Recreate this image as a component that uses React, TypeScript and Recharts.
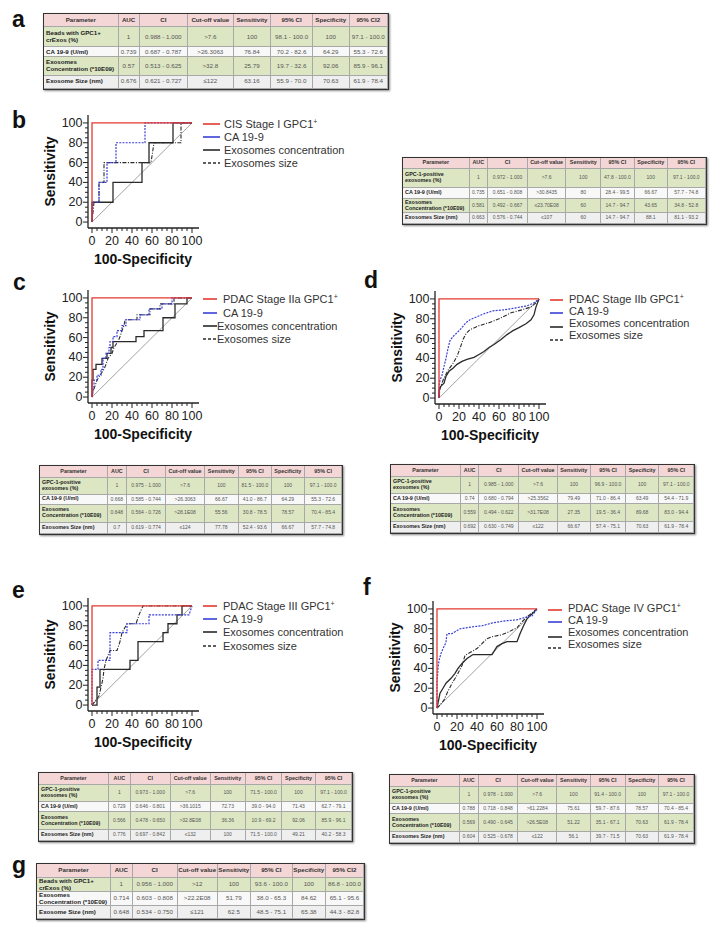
import React from 'react';
import { LineChart, Line, XAxis, YAxis, Legend } from 'recharts';

const FONT = '"Liberation Sans", Arial, Helvetica, sans-serif';
const AXIS_TICKS = [0, 5, 10, 15, 20, 25, 30, 35, 40, 45, 50, 55, 60, 65, 70, 75, 80, 85, 90, 95, 100];
const DIAG = [{ x: 0, y: 0 }, { x: 100, y: 100 }];
const GPC1_PERFECT = [{ x: 0, y: 0 }, { x: 0, y: 100 }, { x: 100, y: 100 }];

// ---- panel b (CIS Stage I)
const bCa199 = [{ x: 0, y: 0 }, { x: 1, y: 20 }, { x: 7, y: 20 }, { x: 7, y: 40 }, { x: 15, y: 40 }, { x: 15, y: 60 }, { x: 24, y: 60 }, { x: 24, y: 80 }, { x: 53, y: 80 }, { x: 53, y: 100 }, { x: 100, y: 100 }];
const bConc = [{ x: 0, y: 0 }, { x: 0, y: 20 }, { x: 21, y: 20 }, { x: 21, y: 40 }, { x: 50, y: 40 }, { x: 50, y: 60 }, { x: 57, y: 60 }, { x: 57, y: 80 }, { x: 81, y: 80 }, { x: 81, y: 100 }, { x: 100, y: 100 }];
const bSize = [{ x: 0, y: 0 }, { x: 2, y: 20 }, { x: 7, y: 20 }, { x: 7, y: 40 }, { x: 12, y: 40 }, { x: 12, y: 60 }, { x: 59, y: 60 }, { x: 62, y: 80 }, { x: 89, y: 80 }, { x: 89, y: 100 }, { x: 100, y: 100 }];

// ---- panel c (PDAC Stage IIa)
const cCa199 = [{ x: 0, y: 0 }, { x: 2, y: 11 }, { x: 2, y: 17 }, { x: 5, y: 17 }, { x: 5, y: 22 }, { x: 9, y: 22 }, { x: 9, y: 28 }, { x: 11, y: 28 }, { x: 11, y: 39 }, { x: 14, y: 39 }, { x: 14, y: 44 }, { x: 17, y: 44 }, { x: 17, y: 50 }, { x: 18, y: 50 }, { x: 18, y: 56 }, { x: 21, y: 56 }, { x: 21, y: 61 }, { x: 25, y: 61 }, { x: 25, y: 67 }, { x: 30, y: 67 }, { x: 30, y: 72 }, { x: 34, y: 72 }, { x: 34, y: 78 }, { x: 48, y: 78 }, { x: 48, y: 83 }, { x: 57, y: 83 }, { x: 57, y: 89 }, { x: 70, y: 89 }, { x: 70, y: 94 }, { x: 80, y: 94 }, { x: 80, y: 100 }, { x: 100, y: 100 }];
const cConc = [{ x: 0, y: 0 }, { x: 0, y: 17 }, { x: 1, y: 17 }, { x: 1, y: 28 }, { x: 4, y: 28 }, { x: 4, y: 33 }, { x: 10, y: 33 }, { x: 10, y: 39 }, { x: 15, y: 39 }, { x: 15, y: 44 }, { x: 19, y: 44 }, { x: 19, y: 50 }, { x: 21, y: 50 }, { x: 21, y: 56 }, { x: 44, y: 56 }, { x: 44, y: 61 }, { x: 52, y: 61 }, { x: 52, y: 67 }, { x: 71, y: 67 }, { x: 71, y: 80 }, { x: 83, y: 80 }, { x: 83, y: 94 }, { x: 95, y: 94 }, { x: 95, y: 100 }, { x: 100, y: 100 }];
const cSize = [{ x: 0, y: 0 }, { x: 1, y: 6 }, { x: 3, y: 11 }, { x: 5, y: 17 }, { x: 8, y: 22 }, { x: 12, y: 28 }, { x: 14, y: 33 }, { x: 16, y: 39 }, { x: 20, y: 44 }, { x: 22, y: 50 }, { x: 26, y: 56 }, { x: 28, y: 61 }, { x: 30, y: 67 }, { x: 32, y: 72 }, { x: 33, y: 78 }, { x: 45, y: 78 }, { x: 45, y: 83 }, { x: 58, y: 83 }, { x: 58, y: 89 }, { x: 68, y: 89 }, { x: 68, y: 94 }, { x: 82, y: 94 }, { x: 82, y: 100 }, { x: 100, y: 100 }];

// ---- panel d (PDAC Stage IIb)
const dCa199 = [{ x: 0, y: 0 }, { x: 0, y: 12 }, { x: 1, y: 18 }, { x: 3, y: 23 }, { x: 5, y: 32 }, { x: 7, y: 40 }, { x: 9, y: 50 }, { x: 11, y: 58 }, { x: 14, y: 62 }, { x: 18, y: 66 }, { x: 22, y: 70 }, { x: 27, y: 76 }, { x: 31, y: 79 }, { x: 38, y: 82 }, { x: 45, y: 85 }, { x: 54, y: 88 }, { x: 65, y: 89 }, { x: 77, y: 91 }, { x: 88, y: 93 }, { x: 95, y: 96 }, { x: 100, y: 100 }];
const dConc = [{ x: 0, y: 0 }, { x: 0, y: 8 }, { x: 2, y: 12 }, { x: 5, y: 15 }, { x: 7, y: 22 }, { x: 10, y: 27 }, { x: 14, y: 30 }, { x: 18, y: 34 }, { x: 23, y: 37 }, { x: 28, y: 39 }, { x: 35, y: 41 }, { x: 40, y: 44 }, { x: 45, y: 47 }, { x: 50, y: 51 }, { x: 55, y: 54 }, { x: 62, y: 59 }, { x: 68, y: 64 }, { x: 74, y: 68 }, { x: 80, y: 71 }, { x: 87, y: 75 }, { x: 92, y: 79 }, { x: 95, y: 84 }, { x: 97, y: 92 }, { x: 100, y: 100 }];
const dSize = [{ x: 0, y: 0 }, { x: 1, y: 10 }, { x: 4, y: 18 }, { x: 9, y: 28 }, { x: 14, y: 35 }, { x: 18, y: 42 }, { x: 21, y: 50 }, { x: 24, y: 59 }, { x: 27, y: 65 }, { x: 31, y: 69 }, { x: 40, y: 73 }, { x: 50, y: 76 }, { x: 60, y: 80 }, { x: 72, y: 86 }, { x: 83, y: 89 }, { x: 92, y: 92 }, { x: 97, y: 96 }, { x: 100, y: 100 }];

// ---- panel e (PDAC Stage III)
const eCa199 = [{ x: 0, y: 0 }, { x: 0, y: 36 }, { x: 6, y: 36 }, { x: 6, y: 45 }, { x: 18, y: 45 }, { x: 18, y: 73 }, { x: 35, y: 73 }, { x: 35, y: 82 }, { x: 57, y: 82 }, { x: 57, y: 91 }, { x: 97, y: 91 }, { x: 100, y: 100 }];
const eConc = [{ x: 0, y: 0 }, { x: 5, y: 0 }, { x: 5, y: 18 }, { x: 8, y: 18 }, { x: 8, y: 36 }, { x: 38, y: 36 }, { x: 38, y: 45 }, { x: 46, y: 45 }, { x: 46, y: 64 }, { x: 71, y: 64 }, { x: 71, y: 73 }, { x: 76, y: 73 }, { x: 76, y: 82 }, { x: 85, y: 82 }, { x: 85, y: 91 }, { x: 90, y: 91 }, { x: 90, y: 100 }, { x: 100, y: 100 }];
const eSize = [{ x: 0, y: 0 }, { x: 7, y: 9 }, { x: 9, y: 18 }, { x: 11, y: 27 }, { x: 12, y: 36 }, { x: 14, y: 45 }, { x: 18, y: 55 }, { x: 25, y: 55 }, { x: 28, y: 64 }, { x: 30, y: 73 }, { x: 35, y: 82 }, { x: 44, y: 82 }, { x: 47, y: 91 }, { x: 51, y: 100 }, { x: 100, y: 100 }];

// ---- panel f (PDAC Stage IV)
const fCa199 = [{ x: 0, y: 0 }, { x: 0, y: 25 }, { x: 1, y: 40 }, { x: 2, y: 48 }, { x: 4, y: 55 }, { x: 6, y: 60 }, { x: 8, y: 64 }, { x: 9, y: 67 }, { x: 10, y: 75 }, { x: 15, y: 75 }, { x: 18, y: 77 }, { x: 23, y: 80 }, { x: 36, y: 82 }, { x: 45, y: 83 }, { x: 56, y: 86 }, { x: 68, y: 88 }, { x: 80, y: 89 }, { x: 90, y: 92 }, { x: 95, y: 93 }, { x: 100, y: 100 }];
const fConc = [{ x: 0, y: 0 }, { x: 1, y: 5 }, { x: 3, y: 15 }, { x: 6, y: 20 }, { x: 9, y: 25 }, { x: 14, y: 30 }, { x: 18, y: 35 }, { x: 21, y: 40 }, { x: 25, y: 45 }, { x: 30, y: 50 }, { x: 36, y: 54 }, { x: 55, y: 54 }, { x: 60, y: 62 }, { x: 65, y: 65 }, { x: 70, y: 67 }, { x: 80, y: 67 }, { x: 83, y: 75 }, { x: 87, y: 84 }, { x: 90, y: 90 }, { x: 95, y: 95 }, { x: 100, y: 100 }];
const fSize = [{ x: 0, y: 0 }, { x: 3, y: 3 }, { x: 7, y: 8 }, { x: 10, y: 15 }, { x: 15, y: 25 }, { x: 20, y: 33 }, { x: 25, y: 43 }, { x: 28, y: 53 }, { x: 33, y: 56 }, { x: 40, y: 60 }, { x: 45, y: 65 }, { x: 50, y: 70 }, { x: 55, y: 72 }, { x: 65, y: 74 }, { x: 72, y: 77 }, { x: 80, y: 81 }, { x: 85, y: 87 }, { x: 90, y: 92 }, { x: 95, y: 96 }, { x: 100, y: 100 }];

// ---- tables
const HEADER_A = ['Parameter', 'AUC', 'CI', 'Cut-off value', 'Sensitivity', '95% CI', 'Specificity', '95% CI2'];
const HEADER_B = ['Parameter', 'AUC', 'CI', 'Cut-off value', 'Sensitivity', '95% CI', 'Specificity', '95% CI'];

const tableARows = [
  ['Beads with GPC1+\ncrExos (%)', '1', '0.988 - 1.000', '>7.6', '100', '98.1 - 100.0', '100', '97.1 - 100.0'],
  ['CA 19-9 (U/ml)', '0.739', '0.687 - 0.787', '>26.3063', '76.84', '70.2 - 82.6', '64.29', '55.3 - 72.6'],
  ['Exosomes\nConcentration (*10E09)', '0.57', '0.513 - 0.625', '>32.8', '25.79', '19.7 - 32.6', '92.06', '85.9 - 96.1'],
  ['Exosome Size (nm)', '0.676', '0.621 - 0.727', '≤122', '63.16', '55.9 - 70.0', '70.63', '61.9 - 78.4'],
];
const tableBRows = [
  ['GPC-1-positive\nexosomes (%)', '1', '0.972 - 1.000', '>7.6', '100', '47.8 - 100.0', '100', '97.1 - 100.0'],
  ['CA 19-9 (U/ml)', '0.735', '0.651 - 0.808', '>30.8435', '80', '28.4 - 99.5', '66.67', '57.7 - 74.8'],
  ['Exosomes\nConcentration (*10E09)', '0.581', '0.492 - 0.667', '≤23.70E08', '60', '14.7 - 94.7', '43.65', '34.8 - 52.8'],
  ['Exosomes Size (nm)', '0.663', '0.576 - 0.744', '≤107', '60', '14.7 - 94.7', '88.1', '81.1 - 93.2'],
];
const tableCRows = [
  ['GPC-1-positive\nexosomes (%)', '1', '0.975 - 1.000', '>7.6', '100', '81.5 - 100.0', '100', '97.1 - 100.0'],
  ['CA 19-9 (U/ml)', '0.668', '0.585 - 0.744', '>26.3063', '66.67', '41.0 - 86.7', '64.29', '55.3 - 72.6'],
  ['Exosomes\nConcentration (*10E09)', '0.648', '0.564 - 0.726', '>28.1E08', '55.56', '30.8 - 78.5', '78.57', '70.4 - 85.4'],
  ['Exosomes Size (nm)', '0.7', '0.619 - 0.774', '≤124', '77.78', '52.4 - 93.6', '66.67', '57.7 - 74.8'],
];
const tableDRows = [
  ['GPC-1-positive\nexosomes (%)', '1', '0.985 - 1.000', '>7.6', '100', '96.9 - 100.0', '100', '97.1 - 100.0'],
  ['CA 19-9 (U/ml)', '0.74', '0.680 - 0.794', '>25.3562', '79.49', '71.0 - 86.4', '63.49', '54.4 - 71.9'],
  ['Exosomes\nConcentration (*10E09)', '0.559', '0.494 - 0.622', '>31.7E08', '27.35', '19.5 - 36.4', '89.68', '83.0 - 94.4'],
  ['Exosomes Size (nm)', '0.692', '0.630 - 0.749', '≤122', '66.67', '57.4 - 75.1', '70.63', '61.9 - 78.4'],
];
const tableERows = [
  ['GPC-1-positive\nexosomes (%)', '1', '0.973 - 1.000', '>7.6', '100', '71.5 - 100.0', '100', '97.1 - 100.0'],
  ['CA 19-9 (U/ml)', '0.729', '0.646 - 0.801', '>36.1015', '72.73', '39.0 - 94.0', '71.43', '62.7 - 79.1'],
  ['Exosomes\nConcentration (*10E09)', '0.566', '0.478 - 0.650', '>32.8E08', '36.36', '10.9 - 69.2', '92.06', '85.9 - 96.1'],
  ['Exosomes Size (nm)', '0.776', '0.697 - 0.842', '≤132', '100', '71.5 - 100.0', '49.21', '40.2 - 58.3'],
];
const tableFRows = [
  ['GPC-1-positive\nexosomes (%)', '1', '0.978 - 1.000', '>7.6', '100', '91.4 - 100.0', '100', '97.1 - 100.0'],
  ['CA 19-9 (U/ml)', '0.788', '0.718 - 0.848', '>61.2284', '75.61', '59.7 - 87.6', '78.57', '70.4 - 85.4'],
  ['Exosomes\nConcentration (*10E09)', '0.569', '0.490 - 0.645', '>26.5E08', '51.22', '35.1 - 67.1', '70.63', '61.9 - 78.4'],
  ['Exosomes Size (nm)', '0.604', '0.525 - 0.678', '≤122', '56.1', '39.7 - 71.5', '70.63', '61.9 - 78.4'],
];
const tableGRows = [
  ['Beads with GPC1+\ncrExos (%)', '1', '0.956 - 1.000', '>12', '100', '93.6 - 100.0', '100', '86.8 - 100.0'],
  ['Exosomes\nConcentration (*10E09)', '0.714', '0.603 - 0.808', '>22.2E08', '51.79', '38.0 - 65.3', '84.62', '65.1 - 95.6'],
  ['Exosome Size (nm)', '0.648', '0.534 - 0.750', '≤121', '62.5', '48.5 - 75.1', '65.38', '44.3 - 82.8'],
];

const PINK = '#f3d6d5';
const GREEN = '#dde6c3';
const GRAY = '#efefef';
const WHITE = '#f8f8f8';

const RED = '#e4392f';
const BLUE = '#3a3fd6';
const BLACK = '#2a2a2a';

// chart geometry
const YW = 62;
const MT = 10;
const PW = 111;
const PH = 113;
const XH = 45;
const LW = 200;

const XTick = (props: any) => {
  const { x, y, payload } = props;
  const v = payload.value;
  const major = v % 20 === 0;
  return (
    <g>
      <line x1={x} x2={x} y1={y} y2={y + (major ? 5 : 3)} stroke="#222" strokeWidth={1} />
      {major && (
        <text x={x} y={y + 12.5} textAnchor="middle" dominantBaseline="central" fontSize={12.5} fill="#222" fontFamily={FONT}>
          {v}
        </text>
      )}
    </g>
  );
};

const YTick = (props: any) => {
  const { x, y, payload } = props;
  const v = payload.value;
  const major = v % 20 === 0;
  return (
    <g>
      <line x1={x} x2={x - (major ? 5 : 3)} y1={y} y2={y} stroke="#222" strokeWidth={1} />
      {major && (
        <text x={x - 5.5} y={y} textAnchor="end" dominantBaseline="central" fontSize={12.5} fill="#222" fontFamily={FONT}>
          {v}
        </text>
      )}
    </g>
  );
};

const XTitle = (props: any) => {
  const vb = props.viewBox || {};
  return (
    <text x={vb.x + vb.width / 2 - 0.5} y={vb.y + 31} textAnchor="middle" dominantBaseline="central" fontSize={14} fontWeight="bold" fill="#111" fontFamily={FONT}>
      100-Specificity
    </text>
  );
};

const YTitle = (props: any) => {
  const vb = props.viewBox || {};
  const cx = vb.x + vb.width - 38;
  const cy = vb.y + vb.height / 2;
  return (
    <text x={cx} y={cy} transform={`rotate(-90 ${cx} ${cy})`} textAnchor="middle" dominantBaseline="central" fontSize={14} fontWeight="bold" fill="#111" fontFamily={FONT}>
      Sensitivity
    </text>
  );
};

type LegendCfg = {
  title: string;
  lineX1: number;
  lineX2: number;
  textX: number[];
  lineY: number[];
  textY: number[];
};

const LegendBox = ({ cfg, ox, oy }: { cfg: LegendCfg; ox: number; oy: number }) => {
  const labels = [cfg.title, 'CA 19-9', 'Exosomes concentration', 'Exosomes size'];
  const colors = [RED, BLUE, BLACK, BLACK];
  const dashes = [undefined, undefined, undefined, '3 2'];
  return (
    <div style={{ position: 'relative', width: '100%', height: '100%', fontFamily: FONT }}>
      {labels.map((lab, i) => (
        <React.Fragment key={i}>
          <svg style={{ position: 'absolute', left: cfg.lineX1 - ox, top: cfg.lineY[i] - oy - 2, overflow: 'visible' }} width={cfg.lineX2 - cfg.lineX1} height={4}>
            <line x1={0} x2={cfg.lineX2 - cfg.lineX1} y1={2} y2={2} stroke={colors[i]} strokeWidth={1.6} strokeDasharray={dashes[i]} />
          </svg>
          <span style={{ position: 'absolute', left: cfg.textX[i] - ox, top: cfg.textY[i] - oy - 7, fontSize: 11, lineHeight: '14px', color: '#333', whiteSpace: 'nowrap' }}>
            {i === 0 ? (
              <>
                {lab}
                <span style={{ fontSize: 7, verticalAlign: 'top', lineHeight: '10px' }}>+</span>
              </>
            ) : (
              lab
            )}
          </span>
        </React.Fragment>
      ))}
    </div>
  );
};

const RocChart = ({ left, top, ca, conc, size, legend }: { left: number; top: number; ca: any[]; conc: any[]; size: any[]; legend: LegendCfg }) => {
  const ox = left - YW;
  const oy = top - MT;
  const W = YW + PW + LW;
  const H = MT + PH + XH;
  return (
    <div style={{ position: 'absolute', left: ox, top: oy }}>
      <LineChart width={W} height={H} margin={{ top: MT, right: LW, bottom: 0, left: 0 }}>
        <XAxis
          type="number"
          dataKey="x"
          domain={[-4, 107]}
          ticks={AXIS_TICKS}
          interval={0}
          allowDataOverflow
          tickSize={0}
          tickMargin={0}
          tickLine={false}
          tick={<XTick />}
          axisLine={{ stroke: '#222', strokeWidth: 1.3 }}
          height={XH}
          label={<XTitle />}
        />
        <YAxis
          type="number"
          dataKey="y"
          domain={[-6, 108]}
          ticks={AXIS_TICKS}
          interval={0}
          allowDataOverflow
          tickSize={0}
          tickMargin={0}
          tickLine={false}
          tick={<YTick />}
          axisLine={{ stroke: '#222', strokeWidth: 1.3 }}
          width={YW}
          label={<YTitle />}
        />
        <Legend
          layout="vertical"
          align="center"
          verticalAlign="middle"
          wrapperStyle={{ left: 0, top: 0, width: W, height: H, pointerEvents: 'none' }}
          content={() => <LegendBox cfg={legend} ox={ox} oy={oy} />}
        />
        <Line data={DIAG} dataKey="y" name="Reference" stroke="#8a8a8a" strokeWidth={0.8} dot={false} isAnimationActive={false} legendType="none" />
        <Line data={size} dataKey="y" name="Exosomes size" stroke={BLACK} strokeWidth={1.1} strokeDasharray="4 1.5 1 1.5" dot={false} isAnimationActive={false} />
        <Line data={conc} dataKey="y" name="Exosomes concentration" stroke={BLACK} strokeWidth={1.3} dot={false} isAnimationActive={false} />
        <Line data={ca} dataKey="y" name="CA 19-9" stroke={BLUE} strokeWidth={1.2} strokeDasharray="2 1.2" dot={false} isAnimationActive={false} />
        <Line data={GPC1_PERFECT} dataKey="y" name="GPC1+" stroke={RED} strokeWidth={1.3} dot={false} isAnimationActive={false} />
      </LineChart>
    </div>
  );
};

const DataTable = ({ x, y, colW, rowH, header, rows, bgs, pfs, vfs }: { x: number; y: number; colW: number[]; rowH: number[]; header: string[]; rows: string[][]; bgs: string[]; pfs: number; vfs: number }) => {
  const base: React.CSSProperties = {
    boxSizing: 'border-box',
    display: 'flex',
    alignItems: 'center',
    borderRight: '0.8px solid #a8a8a8',
    borderBottom: '0.8px solid #a8a8a8',
    overflow: 'hidden',
    whiteSpace: 'pre-line',
    lineHeight: 1.05,
  };
  return (
    <div
      style={{
        position: 'absolute',
        left: x,
        top: y,
        display: 'grid',
        gridTemplateColumns: colW.map((w) => w + 'px').join(' '),
        gridTemplateRows: rowH.map((h) => h + 'px').join(' '),
        border: '1.5px solid #333',
        boxShadow: '1px 1px 2px #888',
        fontFamily: FONT,
        background: '#fff',
      }}
    >
      {header.map((h, i) => (
        <div key={'h' + i} style={{ ...base, background: PINK, fontWeight: 'bold', fontSize: pfs, justifyContent: 'center', color: '#333', textAlign: 'center' }}>
          {h}
        </div>
      ))}
      {rows.map((r, ri) =>
        r.map((c, ci) => (
          <div
            key={ri + '-' + ci}
            style={{
              ...base,
              background: bgs[ri],
              fontWeight: ci === 0 ? 'bold' : 'normal',
              fontSize: ci === 0 ? pfs : vfs,
              justifyContent: ci === 0 ? 'flex-start' : 'center',
              paddingLeft: ci === 0 ? 2 : 0,
              color: ci === 0 ? '#222' : '#555',
            }}
          >
            {c}
          </div>
        ))
      )}
    </div>
  );
};

const PanelLabel = ({ x, y, t }: { x: number; y: number; t: string }) => (
  <div style={{ position: 'absolute', left: x, top: y - 20, fontFamily: FONT, fontWeight: 'bold', fontSize: 23, lineHeight: '24px', color: '#111' }}>{t}</div>
);

const legB: LegendCfg = { title: 'CIS Stage I GPC1', lineX1: 203, lineX2: 220, textX: [224, 224, 224, 224], lineY: [124, 137, 150, 163], textY: [124, 137, 150, 163] };
const legC: LegendCfg = { title: 'PDAC Stage IIa GPC1', lineX1: 203, lineX2: 217, textX: [223, 223, 217, 217], lineY: [299, 313, 326, 339], textY: [299, 313, 326, 339] };
const legD: LegendCfg = { title: 'PDAC Stage IIb GPC1', lineX1: 550, lineX2: 563, textX: [569, 569, 569, 569], lineY: [300, 313, 327, 340], textY: [299, 311, 323, 335] };
const legE: LegendCfg = { title: 'PDAC Stage III GPC1', lineX1: 203, lineX2: 217, textX: [223, 223, 223, 223], lineY: [606, 619, 632, 646], textY: [606, 619, 632, 646] };
const legF: LegendCfg = { title: 'PDAC Stage IV GPC1', lineX1: 548, lineX2: 562, textX: [568, 568, 568, 568], lineY: [610, 622, 637, 648], textY: [608, 620, 632, 644] };

export default function App() {
  return (
    <div style={{ position: 'absolute', left: 0, top: 0, width: 721, height: 932, background: '#fff', overflow: 'hidden' }}>
      <PanelLabel x={12} y={27} t="a" />
      <DataTable x={43} y={13} colW={[74.6, 21, 48.4, 45.6, 37.7, 41.7, 36.6, 38.4]} rowH={[13.3, 20, 10, 18.3, 13.3]} header={HEADER_A} rows={tableARows} bgs={[GREEN, WHITE, GREEN, GRAY]} pfs={6.2} vfs={6.2} />

      <PanelLabel x={12} y={128} t="b" />
      <RocChart left={88} top={115} ca={bCa199} conc={bConc} size={bSize} legend={legB} />
      <DataTable x={402} y={157} colW={[66.6, 18.4, 40, 38.3, 35, 33.3, 33.4, 37.6]} rowH={[11, 19, 11, 14, 11]} header={HEADER_B} rows={tableBRows} bgs={[GREEN, WHITE, GREEN, GRAY]} pfs={5.4} vfs={5} />

      <PanelLabel x={13} y={290} t="c" />
      <RocChart left={88} top={290} ca={cCa199} conc={cConc} size={cSize} legend={legC} />
      <PanelLabel x={364} y={288} t="d" />
      <RocChart left={435} top={291} ca={dCa199} conc={dConc} size={dSize} legend={legD} />

      <DataTable x={39} y={465} colW={[68, 18.7, 39.7, 38.3, 34.3, 32.7, 33.3, 37.4]} rowH={[12, 17, 9.5, 18, 11]} header={HEADER_B} rows={tableCRows} bgs={[GREEN, WHITE, GREEN, GRAY]} pfs={5.4} vfs={5} />
      <DataTable x={390} y={464} colW={[70, 18.3, 40, 38.4, 33.3, 35, 33.3, 35]} rowH={[12, 17, 10, 18, 11]} header={HEADER_B} rows={tableDRows} bgs={[GREEN, WHITE, GREEN, GRAY]} pfs={5.4} vfs={5} />

      <PanelLabel x={12} y={598} t="e" />
      <RocChart left={88} top={598} ca={eCa199} conc={eConc} size={eSize} legend={legE} />
      <PanelLabel x={363} y={595} t="f" />
      <RocChart left={433} top={601} ca={fCa199} conc={fConc} size={fSize} legend={legF} />

      <DataTable x={38} y={772} colW={[70, 21.7, 40, 40, 35, 36.7, 33.3, 36.7]} rowH={[12, 17, 10, 18, 11]} header={HEADER_B} rows={tableERows} bgs={[GREEN, WHITE, GREEN, GRAY]} pfs={5.4} vfs={5} />
      <DataTable x={389} y={774} colW={[69.7, 19.3, 39, 39.4, 33.3, 35, 33.3, 35]} rowH={[12, 17, 10, 18, 11]} header={HEADER_B} rows={tableFRows} bgs={[GREEN, WHITE, GREEN, GRAY]} pfs={5.4} vfs={5} />

      <PanelLabel x={12} y={873} t="g" />
      <DataTable x={36} y={863} colW={[74, 21.7, 45, 40, 33.3, 41.7, 33.3, 38]} rowH={[14, 14, 14, 13]} header={HEADER_A} rows={tableGRows} bgs={[GREEN, WHITE, GRAY]} pfs={6.2} vfs={6.2} />
    </div>
  );
}
